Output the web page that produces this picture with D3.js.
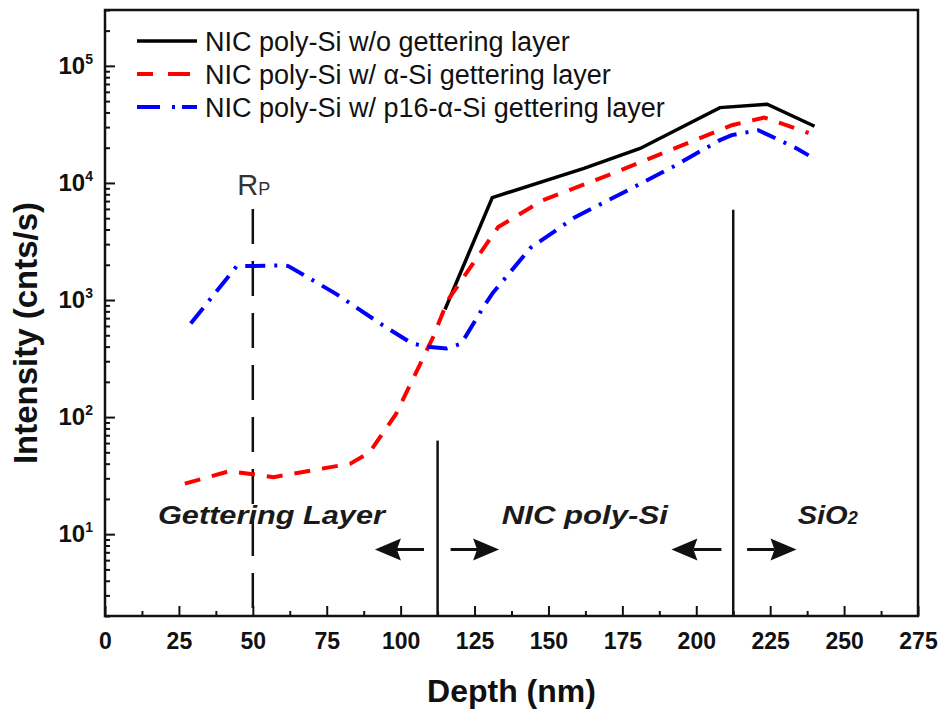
<!DOCTYPE html>
<html>
<head>
<meta charset="utf-8">
<script src="https://cdn.jsdelivr.net/npm/d3@7"></script>
<style>
  body { margin: 0; background: #fff; }
  svg { font-family: Arial, "Liberation Sans", sans-serif; }
</style>
</head>
<body>
<div id="chart"></div>
<script>
// data
var depthNoGetter = [115, 131, 162, 181, 208, 224, 240];
var intNoGetter = [830, 7500, 13300, 19700, 44000, 47000, 30500];

var depthASi = [27, 42, 52, 57, 83, 89.5, 98.5, 105, 111, 116, 133, 148, 173, 198, 212, 223, 238];
var intASi = [27, 34.5, 32, 30.7, 40, 50, 107, 234, 483, 1000, 4200, 7100, 12400, 22400, 31100, 36200, 26700];

var depthP16 = [29, 44.5, 60, 62, 78, 94, 104, 110, 115.5, 120.5, 128, 131, 144, 159, 177, 192, 208, 212, 221, 234, 238];
var intP16 = [630, 1940, 1980, 1950, 1135, 608, 424, 396, 385, 424, 870, 1135, 2800, 5100, 8700, 13700, 23200, 25600, 28200, 19700, 17200];

var seriesNames = [
  "NIC poly-Si w/o gettering layer",
  "NIC poly-Si w/ \u03b1-Si gettering layer",
  "NIC poly-Si w/ p16-\u03b1-Si gettering layer"
];

var xTicks = [0, 25, 50, 75, 100, 125, 150, 175, 200, 225, 250, 275];
var yTicks = [10, 100, 1000, 10000, 100000];
var yExp = [1, 2, 3, 4, 5];

// layer boundaries and annotations (data coordinates)
var rpDepth = 50;
var boundaryDepths = [112.5, 212.5];
var boundaryTops = [63, 5900];
var regionLabels = ["Gettering Layer", "NIC poly-Si", "SiO"];
var regionLabelX = [56.3, 162.3, 234.3];
var regionLabelY = 12.2;
var arrowTails = [107.9, 116.9, 208.5, 217.2];
var arrowTips = [91.3, 133.3, 191.6, 233.9];
var arrowY = 7.4;

var svgWidth = 944;
var svgHeight = 713;
var margin = { top: 10, right: 26, bottom: 97, left: 105 };
var width = svgWidth - margin.left - margin.right;
var height = svgHeight - margin.top - margin.bottom;

var svg = d3.select("#chart").append("svg")
  .attr("width", svgWidth)
  .attr("height", svgHeight);

var g = svg.append("g")
  .attr("transform", `translate(${margin.left}, ${margin.top})`);

var x = d3.scaleLinear().domain([0, 275]).range([0, width]);
var y = d3.scaleLog().domain([2, 3e5]).range([height, 0]);

// minor ticks
var xMinor = xTicks.slice(0, -1).map(d => d + 12.5);
var yMinor = [];
[1, 10, 100, 1000, 10000, 100000].forEach(function(dec) {
  for (var k = 2; k <= 9; k++) {
    var v = k * dec;
    if (v >= 2 && v <= 3e5) yMinor.push(v);
  }
});

// x axis
var xAxis = g.append("g")
  .attr("transform", `translate(0, ${height})`)
  .call(d3.axisBottom(x).tickValues(xTicks).tickSize(-10).tickPadding(17).tickSizeOuter(0));
xAxis.selectAll("text")
  .attr("font-size", "23px").attr("font-weight", "bold").attr("fill", "#111")
  .attr("font-family", "Arial, 'Liberation Sans', sans-serif");

g.append("g")
  .attr("transform", `translate(0, ${height})`)
  .call(d3.axisBottom(x).tickValues(xMinor).tickSize(-5).tickFormat("").tickSizeOuter(0));

// y axis
var yAxis = g.append("g")
  .call(d3.axisLeft(y).tickValues(yTicks).tickSize(-10).tickPadding(12).tickFormat("").tickSizeOuter(0));
yAxis.selectAll(".tick text").each(function(d, i) {
  var t = d3.select(this)
    .attr("font-size", "24px").attr("font-weight", "bold").attr("fill", "#111")
    .attr("font-family", "Arial, 'Liberation Sans', sans-serif");
  t.append("tspan").text("10");
  t.append("tspan").attr("font-size", "14px").attr("dy", "-0.75em").text(yExp[i]);
});

g.append("g")
  .call(d3.axisLeft(y).tickValues(yMinor).tickSize(-5).tickFormat("").tickSizeOuter(0));

g.selectAll(".domain").remove();
g.selectAll(".tick line").attr("stroke", "#111").attr("stroke-width", 2);

// frame
g.append("rect")
  .attr("width", width)
  .attr("height", height)
  .attr("fill", "none")
  .attr("stroke", "#111")
  .attr("stroke-width", 2.5);

// axis titles
svg.append("text")
  .attr("transform", "translate(37, 333) rotate(-90)")
  .attr("text-anchor", "middle")
  .attr("font-size", "33px")
  .attr("font-weight", "bold")
  .attr("fill", "#111")
  .text("Intensity (cnts/s)");

svg.append("text")
  .attr("x", margin.left + width / 2)
  .attr("y", 702)
  .attr("text-anchor", "middle")
  .attr("font-size", "32px")
  .attr("font-weight", "bold")
  .attr("fill", "#111")
  .text("Depth (nm)");

// Rp marker
g.append("line")
  .attr("x1", x(rpDepth)).attr("x2", x(rpDepth))
  .attr("y1", y(6000)).attr("y2", height)
  .attr("stroke", "#111").attr("stroke-width", 2.5)
  .attr("stroke-dasharray", "35,17");

var rp = g.append("text")
  .attr("x", x(rpDepth) + 1)
  .attr("y", y(7830))
  .attr("text-anchor", "middle")
  .attr("fill", "#333")
  .attr("font-size", "29px");
rp.append("tspan").text("R");
rp.append("tspan").attr("font-size", "18px").text("P");

// layer boundaries
g.selectAll(".boundary")
  .data(boundaryDepths)
  .enter()
  .append("line")
  .attr("class", "boundary")
  .attr("x1", d => x(d)).attr("x2", d => x(d))
  .attr("y1", (d, i) => y(boundaryTops[i])).attr("y2", height)
  .attr("stroke", "#111").attr("stroke-width", 2.5);

// arrows
arrowTails.forEach(function(tail, i) {
  var x0 = x(tail), x1 = x(arrowTips[i]), yy = y(arrowY);
  var dir = x1 > x0 ? 1 : -1;
  var base = x1 - dir * 22;
  g.append("line")
    .attr("x1", x0).attr("x2", base)
    .attr("y1", yy).attr("y2", yy)
    .attr("stroke", "#111").attr("stroke-width", 3);
  g.append("path")
    .attr("d", `M${x1},${yy} L${base - dir * 4},${yy - 11} L${base},${yy} L${base - dir * 4},${yy + 11} Z`)
    .attr("fill", "#111");
});

// region labels
var labelWidths = [227, 166, 50];
regionLabels.forEach(function(lbl, i) {
  var t = g.append("text")
    .attr("x", x(regionLabelX[i]))
    .attr("y", y(regionLabelY))
    .attr("text-anchor", i === 2 ? "start" : "middle")
    .attr("font-size", "26px")
    .attr("font-weight", "bold")
    .attr("font-style", "italic")
    .attr("fill", "#1a1a1a");
  t.append("tspan")
    .attr("textLength", labelWidths[i])
    .attr("lengthAdjust", "spacingAndGlyphs")
    .text(lbl);
  if (i === 2) {
    t.append("tspan").attr("font-size", "18px").text("2");
  }
});

// series
var line = d3.line()
  .x(d => x(d[0]))
  .y(d => y(d[1]));

var series = [
  { pts: d3.zip(depthNoGetter, intNoGetter), color: "#000", width: 3.5, dash: null },
  { pts: d3.zip(depthASi, intASi), color: "#ff0000", width: 4, dash: "16,12" },
  { pts: d3.zip(depthP16, intP16), color: "#0000ff", width: 4, dash: "20,9,3,9" }
];

series.forEach(function(s) {
  g.append("path")
    .datum(s.pts)
    .attr("fill", "none")
    .attr("stroke", s.color)
    .attr("stroke-width", s.width)
    .attr("stroke-dasharray", s.dash)
    .attr("d", line);
});

// legend
var legend = g.append("g").attr("transform", "translate(32, 0)");
seriesNames.forEach(function(name, i) {
  var rowY = 41 + i * 33;
  var s = series[i];
  legend.append("line")
    .attr("x1", 0).attr("x2", 60)
    .attr("y1", rowY - 10).attr("y2", rowY - 10)
    .attr("stroke", s.color)
    .attr("stroke-width", s.width)
    .attr("stroke-dasharray", i === 1 ? "16,15,22" : i === 2 ? "23,12,3,7,15" : null);
  legend.append("text")
    .attr("x", 68)
    .attr("y", rowY)
    .attr("font-size", "27px")
    .attr("fill", "#111")
    .text(name);
});
</script>
</body>
</html>
